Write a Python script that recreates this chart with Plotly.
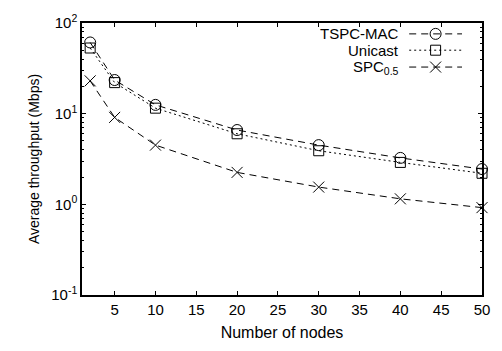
import plotly.graph_objects as go

nodes = [2, 5, 10, 20, 30, 40, 50]
tspc_mac = [61, 23.5, 12.5, 6.6, 4.5, 3.25, 2.45]
unicast = [53, 22, 11.5, 6.0, 3.9, 2.9, 2.2]
spc05 = [23, 9.1, 4.5, 2.25, 1.55, 1.15, 0.92]

series_names = ["TSPC-MAC", "Unicast", "SPC<sub>0.5</sub>"]
series_values = [tspc_mac, unicast, spc05]
symbols = ["circle-open", "square-open", "x-thin-open"]
dash_patterns = ["7px,5px", "2px,3px", "7px,5px"]
sizes = [11, 10, 11]

x_ticks = [5, 10, 15, 20, 25, 30, 35, 40, 45, 50]
y_tickvals = [0.1, 1, 10, 100]
y_ticktext = ["10<sup>-1</sup>", "10<sup>0</sup>", "10<sup>1</sup>", "10<sup>2</sup>"]
y_minor = [m * 10 ** e for e in (-1, 0, 1) for m in range(2, 10)]

FONT = "Liberation Sans, Arial, sans-serif"

fig = go.Figure()
for name, vals, sym, dp, sz in zip(series_names, series_values, symbols, dash_patterns, sizes):
    fig.add_trace(go.Scatter(
        x=nodes, y=vals, mode="lines+markers", name=name, showlegend=False,
        line=dict(color="black", width=1, dash=dp),
        marker=dict(symbol=sym, size=sz, color="black", line=dict(color="black", width=1)),
        cliponaxis=False,
    ))

# manual gnuplot-style legend (text right-aligned, sample to the right)
legend_y = [0.960, 0.900, 0.838]
for name, sym, dp, sz, ly in zip(series_names, symbols, dash_patterns, sizes, legend_y):
    fig.add_trace(go.Scatter(
        x=[0.818, 0.95], y=[ly, ly], mode="lines", xaxis="x2", yaxis="y2", showlegend=False,
        line=dict(color="black", width=1, dash=dp), hoverinfo="skip",
    ))
    fig.add_trace(go.Scatter(
        x=[0.884], y=[ly], mode="markers", xaxis="x2", yaxis="y2", showlegend=False,
        marker=dict(symbol=sym, size=sz, color="black", line=dict(color="black", width=1)),
        hoverinfo="skip",
    ))
    fig.add_annotation(
        x=0.795, y=ly, xref="paper", yref="paper", text=name, showarrow=False,
        xanchor="right", yanchor="middle", font=dict(family=FONT, size=15, color="black"),
        borderpad=0,
    )

fig.update_layout(
    width=502, height=351,
    margin=dict(l=82, r=19, t=15, b=54),
    paper_bgcolor="white", plot_bgcolor="white",
    font=dict(family=FONT, size=15, color="black"),
    xaxis=dict(
        range=[1, 50], tickvals=x_ticks, ticks="inside", ticklen=4, tickcolor="black",
        showline=True, linecolor="black", linewidth=1.5, mirror="ticks", showgrid=False,
        zeroline=False, tickfont=dict(size=15),
        title=dict(text="Number of nodes", font=dict(size=16), standoff=10),
    ),
    yaxis=dict(
        type="log", range=[-1, 2], tickvals=y_tickvals, ticktext=y_ticktext,
        ticks="inside", ticklen=4, tickcolor="black",
        minor=dict(tickmode="array", tickvals=y_minor, ticks="inside", ticklen=2.5,
                   tickcolor="black", showgrid=False),
        showline=True, linecolor="black", linewidth=1.5, mirror="ticks", showgrid=False,
        zeroline=False, tickfont=dict(size=15),
        title=dict(text="Average throughput (Mbps)", font=dict(size=14), standoff=8),
    ),
    xaxis2=dict(range=[0, 1], overlaying="x", visible=False, fixedrange=True),
    yaxis2=dict(range=[0, 1], overlaying="y", visible=False, fixedrange=True),
)

fig.write_html("out.html")
